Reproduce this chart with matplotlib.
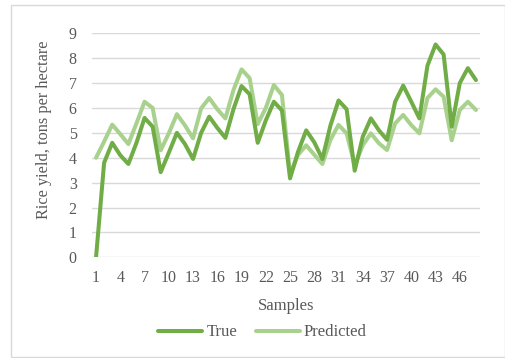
import matplotlib
matplotlib.use("Agg")
import matplotlib.pyplot as plt
from matplotlib.patches import Rectangle

# Sample indices and rice yields (tons per hectare)
samples = list(range(1, 49))
true_yield = [0.0, 3.8, 4.6, 4.1, 3.75, 4.6, 5.6, 5.25, 3.42, 4.2,
              5.0, 4.55, 3.95, 5.0, 5.65, 5.2, 4.8, 5.95, 6.88, 6.55,
              4.6, 5.5, 6.25, 5.9, 3.17, 4.25, 5.1, 4.62, 3.95, 5.3,
              6.3, 5.95, 3.48, 4.85, 5.58, 5.1, 4.72, 6.25, 6.9, 6.25,
              5.58, 7.7, 8.55, 8.15, 5.25, 7.0, 7.6, 7.12]
predicted_yield = [4.0, 4.65, 5.33, 4.95, 4.55, 5.38, 6.25, 6.0, 4.3, 4.98,
                   5.75, 5.3, 4.78, 5.98, 6.4, 5.95, 5.58, 6.72, 7.55, 7.2,
                   5.35, 6.0, 6.92, 6.52, 3.35, 4.12, 4.5, 4.12, 3.75, 4.72,
                   5.32, 4.98, 3.7, 4.5, 4.98, 4.58, 4.31, 5.38, 5.72, 5.31,
                   4.98, 6.4, 6.75, 6.45, 4.7, 5.92, 6.25, 5.92]
x_tick_labels = [1, 4, 7, 10, 13, 16, 19, 22, 25, 28, 31, 34, 37, 40, 43, 46]
y_ticks = list(range(0, 10))

text_color = "#595959"
font = "Liberation Serif"
plt.rcParams["font.family"] = [font, "DejaVu Serif"]

fig = plt.figure(figsize=(5.06, 3.58), dpi=100)
ax = fig.add_axes([92 / 506, 1 - 257.3 / 358, (480 - 92) / 506, (257.3 - 33.3) / 358])

ax.plot(samples, true_yield, color="#70AD47", lw=2.9, solid_joinstyle="round",
        solid_capstyle="round", label="True", zorder=3)
ax.plot(samples, predicted_yield, color="#A9D18E", lw=2.9, solid_joinstyle="round",
        solid_capstyle="round", label="Predicted", zorder=2)

ax.set_xlim(0.5, 48.5)
ax.set_ylim(0, 9)
ax.set_yticks(y_ticks)
ax.set_xticks(x_tick_labels)
ax.set_xticklabels([str(v) for v in x_tick_labels])
ax.grid(axis="y", color="#D9D9D9", lw=1.0)
ax.set_axisbelow(True)
for s in ax.spines.values():
    s.set_visible(False)
ax.tick_params(axis="both", length=0, labelsize=11.5, colors=text_color)
ax.tick_params(axis="y", pad=11)
ax.tick_params(axis="x", pad=9)

ax.set_xlabel("Samples", fontsize=12, color=text_color, labelpad=9)
ax.set_ylabel("Rice yield, tons per hectare", fontsize=11.7, color=text_color)
ax.yaxis.set_label_coords(-0.104, 0.568)

leg = fig.legend(loc="center", bbox_to_anchor=(262.5 / 506, 1 - 332.5 / 358), ncol=2,
                 frameon=False, fontsize=12, handlelength=2.64, handletextpad=0.25,
                 columnspacing=1.1, labelcolor=text_color)

# chart area border
fig.patches.append(Rectangle((11 / 506, 1 / 358), (505 - 11) / 506, (352 - 0) / 358,
                             transform=fig.transFigure, fill=False,
                             edgecolor="#D9D9D9", lw=1.0))

fig.savefig("out.png", dpi=100)
